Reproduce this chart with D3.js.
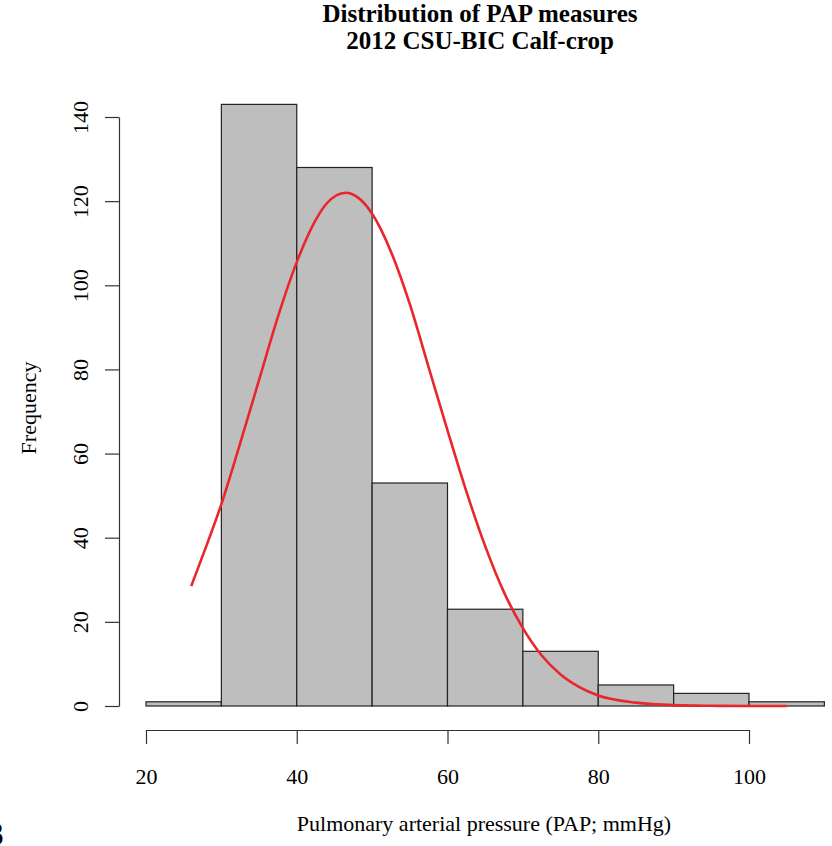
<!DOCTYPE html>
<html>
<head>
<meta charset="utf-8">
<script src="https://cdn.jsdelivr.net/npm/d3@7"></script>
<style>
  body { margin: 0; background: #fff; }
  svg { display: block; }
  text { font-family: "Liberation Serif", "DejaVu Serif", serif; fill: #000; }
</style>
</head>
<body>
<svg id="histsvg" width="832" height="846"></svg>
<script>
// histogram bins (lower edge, width 10) and counts
var binStarts = [20, 30, 40, 50, 60, 70, 80, 90, 100];
var counts = [1, 143, 128, 53, 23, 13, 5, 3, 1];
var binWidth = 10;

// red normal curve
var curveX = [26, 28, 30, 32.5, 35, 37.5, 40, 42.5, 44, 46.5, 48, 50, 52.5, 55, 57.5, 60, 62.5, 65, 67.5, 70, 72.5, 75, 77.5, 80, 85, 90, 95, 100, 105];
var curveY = [28.5, 38, 48, 62.5, 77.5, 92.5, 105.5, 115.5, 119.5, 122, 121, 117, 108, 95.5, 80.5, 65.5, 51, 38, 27, 18.5, 12, 7.5, 4.5, 2.5, 0.8, 0.2, 0.05, 0, 0];

var xTicks = [20, 40, 60, 80, 100];
var yTicks = [0, 20, 40, 60, 80, 100, 120, 140];

var titleLines = ['Distribution of PAP measures', '2012 CSU-BIC Calf-crop'];
var xTitle = 'Pulmonary arterial pressure (PAP; mmHg)';
var yTitle = 'Frequency';

var svg = d3.select('#histsvg');

var xScale = d3.scaleLinear().domain([20, 100]).range([146, 749]);
var yScale = d3.scaleLinear().domain([0, 140]).range([706, 117]);

// bars
svg.append('g')
  .selectAll('rect')
  .data(binStarts)
  .enter()
  .append('rect')
  .attr('x', d => xScale(d))
  .attr('y', (d, i) => yScale(counts[i]))
  .attr('width', d => xScale(d + binWidth) - xScale(d))
  .attr('height', (d, i) => yScale(0) - yScale(counts[i]))
  .attr('fill', '#bebebe')
  .attr('stroke', '#222')
  .attr('stroke-width', 1.2);

// density curve
var line = d3.line()
  .x(d => xScale(d[0]))
  .y(d => yScale(d[1]))
  .curve(d3.curveMonotoneX);

svg.append('path')
  .datum(curveX.map((x, i) => [x, curveY[i]]))
  .attr('d', line)
  .attr('fill', 'none')
  .attr('stroke', '#e8262b')
  .attr('stroke-width', 2.6);

// x axis
var xAxis = svg.append('g')
  .attr('transform', 'translate(0, 730)')
  .call(d3.axisBottom(xScale).tickValues(xTicks).tickSize(14).tickSizeOuter(0).tickPadding(24));
xAxis.selectAll('text').style('font-size', '22px').style('font-family', '"Liberation Serif", serif');

// y axis, labels turned like R does
var yAxis = svg.append('g')
  .attr('transform', 'translate(119, 0)')
  .call(d3.axisLeft(yScale).tickValues(yTicks).tickSize(14).tickSizeOuter(0));
yAxis.selectAll('text')
  .attr('transform', 'rotate(-90)')
  .attr('x', 0)
  .attr('y', -39)
  .attr('dy', '0.35em')
  .attr('text-anchor', 'middle')
  .style('font-size', '22px')
  .style('font-family', '"Liberation Serif", serif');

svg.selectAll('.domain, .tick line').attr('stroke', '#333').attr('stroke-width', 1.2);

// titles
svg.append('g')
  .selectAll('text')
  .data(titleLines)
  .enter()
  .append('text')
  .attr('x', 480)
  .attr('y', (d, i) => 22 + i * 27)
  .attr('text-anchor', 'middle')
  .style('font-size', '25px')
  .style('font-weight', 'bold')
  .text(d => d);

svg.append('text')
  .attr('x', 484)
  .attr('y', 831)
  .attr('text-anchor', 'middle')
  .style('font-size', '22px')
  .text(xTitle);

svg.append('text')
  .attr('transform', 'translate(28, 408) rotate(-90)')
  .attr('dy', '0.35em')
  .attr('text-anchor', 'middle')
  .style('font-size', '22px')
  .text(yTitle);

// stray panel letter at the cropped left edge
svg.append('text')
  .attr('x', -16)
  .attr('y', 845)
  .style('font-family', '"DejaVu Sans", sans-serif')
  .style('font-size', '30px')
  .text('B');
</script>
</body>
</html>
